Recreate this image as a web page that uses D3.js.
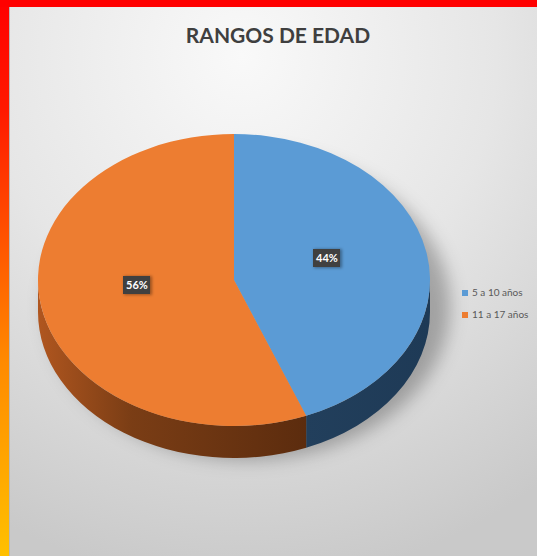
<!DOCTYPE html>
<html>
<head>
<meta charset="utf-8">
<script src="https://cdn.jsdelivr.net/npm/d3@7"></script>
<style>
  body { margin: 0; padding: 0; background: #fff; }
  svg { display: block; }
</style>
</head>
<body>
<svg id="drawing_region"></svg>
<script>
// chart values
const categories = ['5 a 10 años', '11 a 17 años'];
const values = [44, 56];
const labels = ['44%', '56%'];
const title = 'RANGOS DE EDAD';

const topColors = ['#5b9bd5', '#ed7d31'];

const width = 537, height = 556;
const cx = 234, cy = 280, rx = 196, ry = 146, depth = 32;

const svg = d3.select('#drawing_region')
    .attr('width', width)
    .attr('height', height);

const defs = svg.append('defs');

// background gradient
let bg = defs.append('radialGradient').attr('id', 'bg')
    .attr('cx', 0.45).attr('cy', 0.1).attr('r', 0.95);
bg.append('stop').attr('offset', 0).attr('stop-color', '#f9f9f9');
bg.append('stop').attr('offset', 0.5).attr('stop-color', '#e6e6e6');
bg.append('stop').attr('offset', 1).attr('stop-color', '#c9c9c9');

let lb = defs.append('linearGradient').attr('id', 'leftbar')
    .attr('x1', 0).attr('y1', 0).attr('x2', 0).attr('y2', 1);
lb.append('stop').attr('offset', 0).attr('stop-color', '#ff0000');
lb.append('stop').attr('offset', 0.2).attr('stop-color', '#ff1a00');
lb.append('stop').attr('offset', 0.65).attr('stop-color', '#ff8a00');
lb.append('stop').attr('offset', 1).attr('stop-color', '#ffc000');

let og = defs.append('linearGradient').attr('id', 'orangeSide')
    .attr('x1', 0).attr('y1', 0).attr('x2', 1).attr('y2', 0);
og.append('stop').attr('offset', 0).attr('stop-color', '#b0561f');
og.append('stop').attr('offset', 0.35).attr('stop-color', '#7a3d15');
og.append('stop').attr('offset', 1).attr('stop-color', '#5c2c0e');

let bgr = defs.append('linearGradient').attr('id', 'blueSide')
    .attr('x1', 0).attr('y1', 0).attr('x2', 1).attr('y2', 0);
bgr.append('stop').attr('offset', 0).attr('stop-color', '#223f5c');
bgr.append('stop').attr('offset', 1).attr('stop-color', '#1e3a56');

defs.append('filter').attr('id', 'blur')
    .attr('x', -0.3).attr('y', -0.3).attr('width', 1.6).attr('height', 1.6)
    .append('feGaussianBlur').attr('stdDeviation', 9);

defs.append('filter').attr('id', 'lblur')
    .attr('x', -0.3).attr('y', -0.3).attr('width', 1.6).attr('height', 1.6)
    .append('feGaussianBlur').attr('stdDeviation', 1.5);

svg.append('rect').attr('width', width).attr('height', height).attr('fill', 'url(#bg)');

// borders
svg.append('rect').attr('x', 0).attr('y', 0).attr('width', 9).attr('height', height)
    .attr('fill', 'url(#leftbar)');
svg.append('rect').attr('x', 0).attr('y', 0).attr('width', width).attr('height', 7)
    .attr('fill', '#ff0000');
svg.append('line').attr('x1', 9.5).attr('x2', 9.5).attr('y1', 7).attr('y2', height)
    .attr('stroke', '#b8b8b8').attr('stroke-width', 1);

// title
svg.append('text')
    .attr('x', 278).attr('y', 43)
    .attr('text-anchor', 'middle')
    .attr('font-family', 'Lato, "Open Sans", sans-serif')
    .attr('font-weight', 'bold')
    .attr('font-size', 21)
    .attr('fill', '#3f3f3f')
    .text(title);

// pie
const pie = d3.pie().sort(null).startAngle(0).endAngle(2 * Math.PI);
const arcs = pie(values);

const px = a => cx + rx * Math.sin(a);
const py = a => cy - ry * Math.cos(a);

function topPath(a0, a1) {
    let large = (a1 - a0) > Math.PI ? 1 : 0;
    return `M${cx},${cy} L${px(a0)},${py(a0)} A${rx},${ry} 0 ${large} 1 ${px(a1)},${py(a1)} Z`;
}

function sidePath(a0, a1) {
    let s = Math.max(a0, Math.PI / 2), e = Math.min(a1, 3 * Math.PI / 2);
    if (e <= s) return null;
    return `M${px(s)},${py(s)} A${rx},${ry} 0 0 1 ${px(e)},${py(e)}` +
        ` L${px(e)},${py(e) + depth} A${rx},${ry} 0 0 0 ${px(s)},${py(s) + depth} Z`;
}

// shadow
svg.append('ellipse')
    .attr('cx', cx + 14).attr('cy', cy + depth / 2 + 10)
    .attr('rx', rx + 6).attr('ry', ry + 8)
    .attr('fill', 'rgba(0,0,0,0.28)')
    .attr('filter', 'url(#blur)');

const sideFills = ['url(#blueSide)', 'url(#orangeSide)'];

svg.append('g').selectAll('path')
    .data(arcs)
    .join('path')
    .attr('d', d => sidePath(d.startAngle, d.endAngle))
    .attr('fill', (d, i) => sideFills[i]);

svg.append('g').selectAll('path')
    .data(arcs)
    .join('path')
    .attr('d', d => topPath(d.startAngle, d.endAngle))
    .attr('fill', (d, i) => topColors[i]);

// data labels
const labelPos = [[327, 258], [137, 285]];
const lg = svg.append('g').selectAll('g')
    .data(arcs)
    .join('g')
    .attr('transform', (d, i) => `translate(${labelPos[i][0]},${labelPos[i][1]})`);

lg.append('rect')
    .attr('x', -13).attr('y', -9).attr('width', 28).attr('height', 19)
    .attr('fill', 'rgba(0,0,0,0.35)')
    .attr('filter', 'url(#lblur)');
lg.append('rect')
    .attr('x', -14).attr('y', -9).attr('width', 27).attr('height', 18)
    .attr('fill', '#404040');
lg.append('text')
    .attr('x', 0).attr('y', 4)
    .attr('text-anchor', 'middle')
    .attr('font-family', 'Lato, "Open Sans", sans-serif')
    .attr('font-weight', 'bold')
    .attr('font-size', 11)
    .attr('fill', '#ffffff')
    .text((d, i) => labels[i]);

// legend
const legend = svg.append('g').selectAll('g')
    .data(categories)
    .join('g')
    .attr('transform', (d, i) => `translate(462, ${294 + i * 22})`);
legend.append('rect')
    .attr('x', 0).attr('y', -4).attr('width', 6).attr('height', 6)
    .attr('fill', (d, i) => topColors[i]);
legend.append('text')
    .attr('x', 10).attr('y', 2)
    .attr('font-family', 'Lato, "Open Sans", sans-serif')
    .attr('font-size', 10)
    .attr('fill', '#595959')
    .text(d => d);
</script>
</body>
</html>
